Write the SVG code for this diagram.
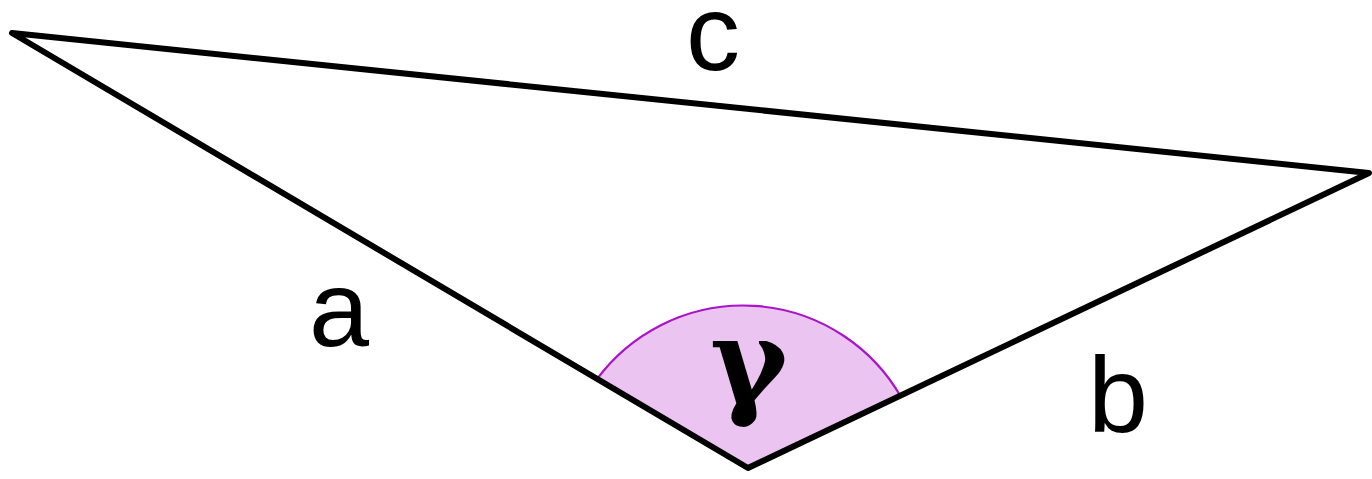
<svg xmlns="http://www.w3.org/2000/svg" width="1372" height="479" viewBox="0 0 1372 479">
<style>
.edge{fill:none;stroke:#000;stroke-width:6;stroke-linejoin:round;stroke-linecap:round}
.lbl{font-family:"Liberation Sans",Arial,sans-serif;font-size:108px;fill:#000;text-anchor:middle}
.greek{font-family:"DejaVu Serif",serif;font-size:118px;font-weight:bold;fill:#000;text-anchor:middle}
</style>
<rect width="1372" height="479" fill="#fff"/>
<g id="angle-gamma">
<path d="M748,468 L597,379 A182,182 0 0,1 901,397 Z" fill="#ecc4f2" stroke="none"/>
<path d="M597,379 A182,182 0 0,1 901,397" fill="none" stroke="#a815c8" stroke-width="2.2"/>
<text class="greek" x="749" y="402">γ</text>
</g>
<g id="connectors">
<path class="edge" d="M12,33 L1369,173 L748,468 Z"/>
</g>
<g id="label-c"><text class="lbl" x="713" y="70">c</text></g>
<g id="label-a"><text class="lbl" x="339" y="346">a</text></g>
<g id="label-b"><text class="lbl" x="1118" y="432">b</text></g>
</svg>
